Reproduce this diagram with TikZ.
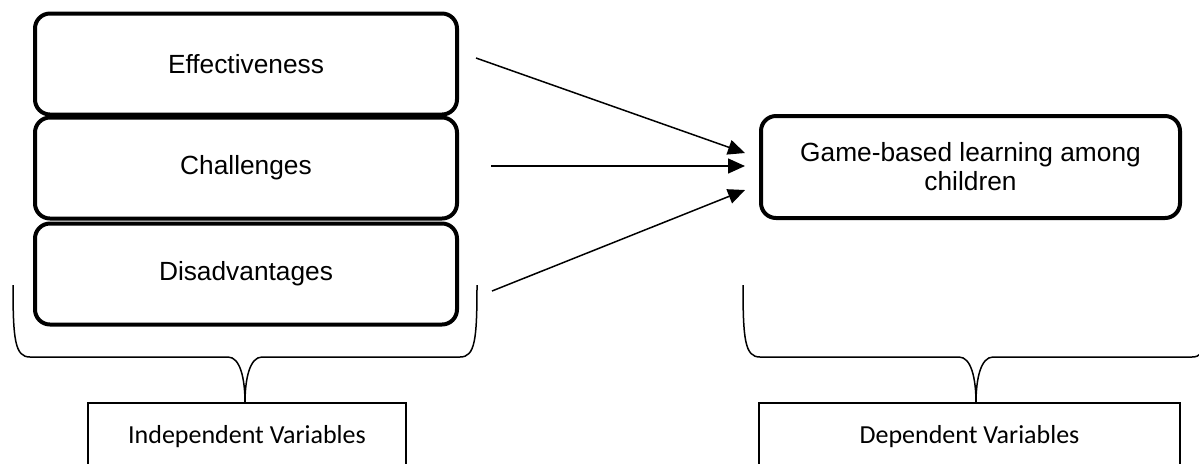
\documentclass[tikz,border=0pt]{standalone}
\usepackage{fontspec}
\setmainfont{Liberation Sans}
\newfontfamily\calibri{Carlito}
\usetikzlibrary{arrows.meta}
\begin{document}
\begin{tikzpicture}[x=0.5pt,y=-0.5pt,
  varbox/.style={draw, line width=2pt, rounded corners=7.5pt, minimum width=211pt,
    minimum height=50.5pt, inner sep=0pt, align=center,
    font=\fontsize{13.15}{14.5}\selectfont},
  labelbox/.style={draw, line width=0.6pt, minimum width=159pt, minimum height=34pt,
    inner sep=0pt, font=\calibri\fontsize{13}{15}\selectfont},
  conn/.style={line width=0.75pt, -{Triangle[length=8.5pt,width=7.5pt]}},
  bracepath/.style={line width=0.75pt}]
\useasboundingbox (0,0) rectangle (1199,463);
% left stacked boxes
\node[varbox] (eff) at (246,64) {Effectiveness};
\node[varbox] (cha) at (246,168) {Challenges};
\node[varbox] (dis) at (246,274) {Disadvantages};
% dependent box
\node[varbox, minimum width=209.5pt, minimum height=51pt] (gbl) at (970.5,167)
  {Game-based learning among\\children};
% arrows
\coordinate (s1) at (476,58);
\coordinate (s2) at (491,166);
\coordinate (s3) at (492,291);
\coordinate (e1) at (745,153);
\coordinate (e2) at (745,166);
\coordinate (e3) at (745,190);
\draw[conn] (s1) -- (e1);
\draw[conn] (s2) -- (e2);
\draw[conn] (s3) -- (e3);
% bottom label boxes
\node[labelbox] (ind) at (247,437) {Independent Variables};
\node[labelbox, minimum width=210.5pt] (dep) at (969.5,437) {Dependent Variables};
% braces
\draw[bracepath] (13,285) .. controls (13,340) and (15,357) .. (30,357) -- (228,357)
  .. controls (240,357) and (245,378) .. (245,403)
  .. controls (245,378) and (250,357) .. (262,357) -- (460,357)
  .. controls (475,357) and (477,340) .. (477,285);
\draw[bracepath] (743,285) .. controls (743,340) and (745,357) .. (760,357) -- (959,357)
  .. controls (971,357) and (976,378) .. (976,403)
  .. controls (976,378) and (981,357) .. (993,357) -- (1192,357)
  .. controls (1207,357) and (1209,340) .. (1209,285);
\end{tikzpicture}
\end{document}
